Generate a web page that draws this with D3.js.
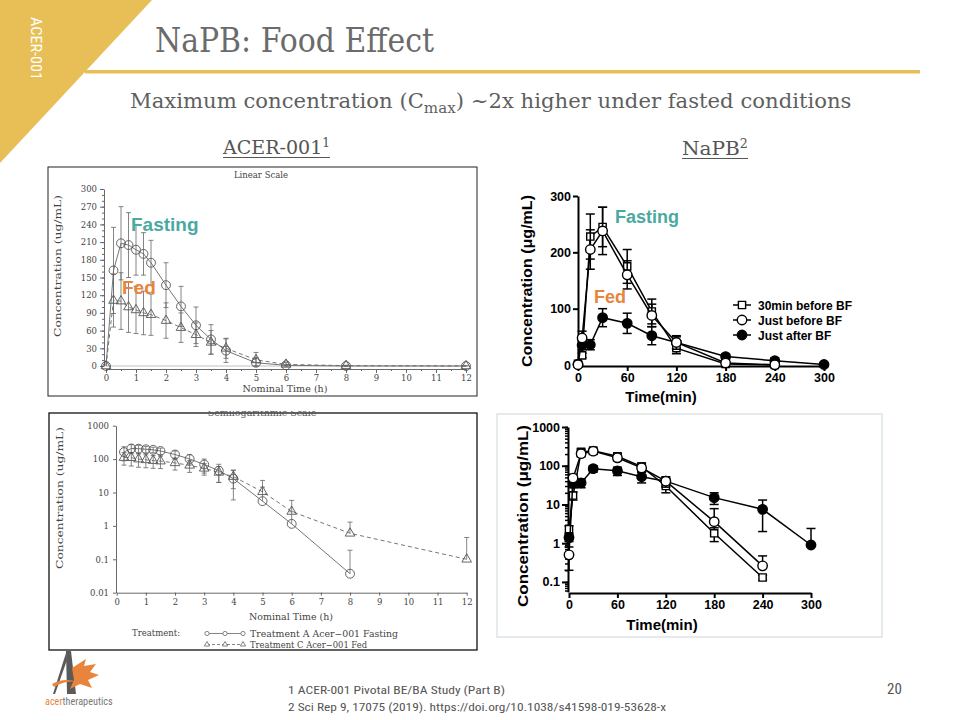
<!DOCTYPE html>
<html><head><meta charset="utf-8">
<script src="https://cdn.jsdelivr.net/npm/d3@7"></script>
<style>body{margin:0;background:#fff}svg{display:block}</style>
</head><body><svg id="s" width="960" height="720"></svg>
<script>
// ---------------- DATA ----------------
// ACER-001 (hours)
const acerTimes = [0,0.25,0.5,0.75,1,1.25,1.5,2,2.5,3,3.5,4,5,6,8,12];
const acerFastMean = [0,162,208,205,197,190,175,137,101,69,45,26,5.5,1.15,0.037,0];
const acerFastSD   = [0,73,62,55,43,36,38,38,34,31,25,20,9,1.5,0.15,0];
const acerFedMean  = [0,111,110,100,95,90,87,77,65,53,40,30,10.5,2.7,0.6,0.1];
const acerFedSD    = [0,45,48,43,40,37,35,30,25,20,20,17,12.5,3.1,0.7,0.35];
const acerLinTicks = [0,30,60,90,120,150,180,210,240,270,300];
const acerLogTicks = [0.01,0.1,1,10,100,1000];
const acerHourTicks = [0,1,2,3,4,5,6,7,8,9,10,11,12];
// NaPB (minutes)
const napbTimesA = [0,5,15,30,60,90,120,180,240];
const napb30Mean = [2.3,17,228,245,175,95,30,1.8,0.13];
const napb30SD   = [0.5,4,40,35,30,22,10,0.7,0.02];
const napbJBMean = [0.5,48,205,238,160,88,40,3.6,0.26];
const napbJBSD   = [0.3,12,35,42,25,20,12,4.2,0.21];
const napbTimesB = [0,5,15,30,60,90,120,180,240,300];
const napbJAMean = [1.4,35,36,84,74,52,40,15,7.5,0.9];
const napbJASD   = [0.3,8,9,16,18,16,10,5,5.5,1.5];
const napbLinTicks = [0,100,200,300];
const napbLogTicks = [0.1,1,10,100,1000];
const napbMinTicks = [0,60,120,180,240,300];
const napbLegend = ["30min before BF","Just before BF","Just after BF"];
const acerLegend = ["Treatment A Acer\u2212001 Fasting","Treatment C Acer\u2212001 Fed"];

// ---------------- SETUP ----------------
const svg = d3.select("#s");
const TEAL = "#4aa9a0", ORANGE = "#e8843c", GOLD = "#e8bf57";
const serif = "'DejaVu Serif', 'Liberation Serif', serif";
const sans = "'Liberation Sans', Arial, sans-serif";
const narrow = "'Liberation Sans Narrow', 'Roboto Condensed', 'Liberation Sans', sans-serif";

// header
svg.append("polygon").attr("points","0,0 152,0 0,163").attr("fill",GOLD);
svg.append("rect").attr("x",85).attr("y",70).attr("width",835).attr("height",3.5).attr("fill",GOLD);
svg.append("text").attr("transform","translate(31,17) rotate(90)")
  .attr("font-family",narrow).attr("font-size",14).attr("fill","#fff")
  .attr("textLength",63).attr("lengthAdjust","spacingAndGlyphs").text("ACER-001");
svg.append("text").attr("x",155).attr("y",52).attr("font-family",serif).attr("font-size",34)
  .attr("fill","#6b6b6b").attr("textLength",279).attr("lengthAdjust","spacingAndGlyphs").text("NaPB: Food Effect");
const sub = svg.append("text").attr("x",130).attr("y",108).attr("font-family",serif).attr("font-size",21)
  .attr("fill","#5f5f5f");
sub.append("tspan").text("Maximum concentration (C");
sub.append("tspan").attr("font-size",15).attr("dy",5).text("max");
sub.append("tspan").attr("dy",-5).text(") ~2x higher under fasted conditions");
function fitX(sel, x0, width){ const w=sel.node().getComputedTextLength(); sel.attr("transform",`translate(${x0},0) scale(${width/w},1) translate(${-x0},0)`); }
fitX(sub,130,722);

function heading(txt, sup, x0, x1, y){
  const t = svg.append("text").attr("x",x0).attr("y",y).attr("font-family",serif).attr("font-size",19).attr("fill","#555");
  t.append("tspan").text(txt);
  t.append("tspan").attr("font-size",12).attr("dy",-7).text(sup);
  fitX(t,x0,x1-x0);
  svg.append("line").attr("x1",x0).attr("x2",x1).attr("y1",y+3.5).attr("y2",y+3.5).attr("stroke","#555").attr("stroke-width",1);
}
heading("ACER-001","1",223,330,154);
heading("NaPB","2",682,748,155);

// ---------------- helpers ----------------
function rows(times, means, sds){ return times.map((t,i)=>({t, m:means[i], sd:sds[i]})); }

function drawSeries(g, x, y, data, o){
  const log = o.log;
  const [dmin,dmax] = y.domain();
  const pts = data.filter(d => !log || d.m > 0);
  const eb = g.append("g").attr("stroke",o.ebColor).attr("stroke-width",o.ebWidth).attr("fill","none");
  pts.forEach(d=>{
    if(!(d.sd>0)) return;
    const hi = d.m + d.sd; let lo = d.m - d.sd;
    const xx = x(d.t);
    let loOk = log ? lo > dmin : true;
    if(!log && lo < dmin) lo = dmin;
    const yHi = y(Math.min(hi,dmax)), yLo = loOk ? y(lo) : y(d.m);
    eb.append("line").attr("x1",xx).attr("x2",xx).attr("y1",yHi).attr("y2",yLo);
    eb.append("line").attr("x1",xx-o.cap).attr("x2",xx+o.cap).attr("y1",yHi).attr("y2",yHi);
    if(loOk) eb.append("line").attr("x1",xx-o.cap).attr("x2",xx+o.cap).attr("y1",yLo).attr("y2",yLo);
  });
  g.append("path").datum(pts).attr("fill","none").attr("stroke",o.lineColor).attr("stroke-width",o.lineWidth)
    .attr("stroke-dasharray",o.dash||null)
    .attr("d",d3.line().x(d=>x(d.t)).y(d=>y(d.m)));
  g.selectAll(null).data(pts).enter().append("path")
    .attr("transform",d=>`translate(${x(d.t)},${y(d.m)})`)
    .attr("d",d3.symbol().type(o.symbol).size(o.size))
    .attr("fill",o.fill).attr("stroke",o.stroke).attr("stroke-width",o.strokeWidth);
}

function styleAxis(g, font, size, weight, color, sw){
  g.selectAll("text").attr("font-family",font).attr("font-size",size).attr("font-weight",weight).attr("fill",color);
  g.selectAll("line,path").attr("stroke",color).attr("stroke-width",sw);
}

// ---------------- CHART 1: ACER linear ----------------
svg.append("rect").attr("x",48).attr("y",167).attr("width",429).attr("height",229).attr("fill","#fff").attr("stroke","#222").attr("stroke-width",1);
const c1x = d3.scaleLinear([0,12],[106,466]);
const c1y = d3.scaleLinear([0,300],[366,189]);
{
  const g = svg.append("g");
  const ya = g.append("g").attr("transform","translate(104,0)")
    .call(d3.axisLeft(c1y).tickValues(acerLinTicks).tickSize(4).tickSizeOuter(0).tickPadding(3));
  styleAxis(ya, serif, 8.5, "normal", "#444", 0.8);
  g.append("g").attr("transform","translate(104,0)")
    .call(d3.axisLeft(c1y).tickValues(d3.range(0,301,10)).tickSize(2).tickFormat("").tickSizeOuter(0))
    .call(a=>{a.select(".domain").remove(); a.selectAll("line").attr("stroke","#666");});
  const xa = g.append("g").attr("transform","translate(0,369)")
    .call(d3.axisBottom(c1x).tickValues(acerHourTicks).tickSize(4).tickSizeOuter(0).tickPadding(2));
  styleAxis(xa, serif, 8.5, "normal", "#444", 0.8);
  g.append("g").attr("transform","translate(0,369)")
    .call(d3.axisBottom(c1x).tickValues(d3.range(0,12.01,0.5)).tickSize(2).tickFormat("").tickSizeOuter(0))
    .call(a=>{a.select(".domain").remove(); a.selectAll("line").attr("stroke","#666");});
  g.append("line").attr("x1",c1x(0)).attr("x2",c1x(12)).attr("y1",c1y(0)).attr("y2",c1y(0)).attr("stroke","#999").attr("stroke-width",0.6);
  const base = {ebColor:"#666", ebWidth:0.8, cap:2.5, lineColor:"#666", lineWidth:0.9, fill:"none", stroke:"#555", strokeWidth:0.9};
  drawSeries(g,c1x,c1y,rows(acerTimes,acerFedMean,acerFedSD),{...base, dash:"4,3", symbol:d3.symbolTriangle, size:40});
  drawSeries(g,c1x,c1y,rows(acerTimes,acerFastMean,acerFastSD),{...base, symbol:d3.symbolCircle, size:62});
  g.append("text").attr("x",261).attr("y",178).attr("text-anchor","middle").attr("font-family",serif).attr("font-size",8.5).attr("fill","#444").text("Linear Scale");
  g.append("text").attr("x",285).attr("y",392).attr("text-anchor","middle").attr("font-family",serif).attr("font-size",9.5).attr("fill","#444")
    .attr("textLength",85).attr("lengthAdjust","spacingAndGlyphs").text("Nominal Time (h)");
  g.append("text").attr("transform","translate(61,266) rotate(-90)").attr("text-anchor","middle").attr("font-family",serif).attr("font-size",9.5).attr("fill","#444")
    .attr("textLength",142).attr("lengthAdjust","spacingAndGlyphs").text("Concentration (ug/mL)");
  g.append("text").attr("x",131).attr("y",231).attr("font-family",sans).attr("font-weight","bold").attr("font-size",19).attr("fill",TEAL).text("Fasting");
  g.append("text").attr("x",122).attr("y",294).attr("font-family",sans).attr("font-weight","bold").attr("font-size",19).attr("fill",ORANGE).text("Fed");
}

// ---------------- CHART 3: ACER log ----------------
svg.append("rect").attr("x",49).attr("y",413).attr("width",428).attr("height",237).attr("fill","#fff").attr("stroke","#111").attr("stroke-width",1.3);
const c3x = d3.scaleLinear([0,12],[116.7,466.7]);
const c3y = d3.scaleLog([0.01,1000],[592.7,425.7]);
{
  const g = svg.append("g");
  svg.append("clipPath").attr("id","clipT").append("rect").attr("x",49).attr("y",411).attr("width",428).attr("height",10);
  g.append("text").attr("clip-path","url(#clipT)").attr("x",262).attr("y",416).attr("text-anchor","middle").attr("font-family",serif).attr("font-size",9.5).attr("fill","#555").text("Semilogarithmic Scale");
  const ya = g.append("g").attr("transform","translate(116,0)")
    .call(d3.axisLeft(c3y).tickValues(acerLogTicks).tickFormat(d=>String(d)).tickSize(3).tickSizeOuter(0).tickPadding(4));
  styleAxis(ya, serif, 8.5, "normal", "#444", 0.8);
  const xa = g.append("g").attr("transform","translate(0,592.7)")
    .call(d3.axisBottom(c3x).tickValues(acerHourTicks).tickSize(3).tickSizeOuter(0).tickPadding(3));
  styleAxis(xa, serif, 8.5, "normal", "#444", 0.8);
  const base = {log:true, ebColor:"#666", ebWidth:0.8, cap:2.5, lineColor:"#666", lineWidth:0.9, fill:"none", stroke:"#555", strokeWidth:0.9};
  drawSeries(g,c3x,c3y,rows(acerTimes,acerFedMean,acerFedSD),{...base, dash:"4,3", symbol:d3.symbolTriangle, size:40});
  drawSeries(g,c3x,c3y,rows(acerTimes,acerFastMean,acerFastSD),{...base, symbol:d3.symbolCircle, size:62});
  g.append("text").attr("x",291).attr("y",620).attr("text-anchor","middle").attr("font-family",serif).attr("font-size",9.5).attr("fill","#444")
    .attr("textLength",84).attr("lengthAdjust","spacingAndGlyphs").text("Nominal Time (h)");
  g.append("text").attr("transform","translate(63,498) rotate(-90)").attr("text-anchor","middle").attr("font-family",serif).attr("font-size",9.5).attr("fill","#444")
    .attr("textLength",142).attr("lengthAdjust","spacingAndGlyphs").text("Concentration (ug/mL)");
  g.append("text").attr("x",132).attr("y",636).attr("font-family",serif).attr("font-size",9).attr("fill","#444")
    .attr("textLength",48).attr("lengthAdjust","spacingAndGlyphs").text("Treatment:");
  const ly = [633.5, 644.5];
  const lg = g.append("g").attr("stroke","#666").attr("fill","none").attr("stroke-width",0.8);
  lg.append("line").attr("x1",207).attr("x2",243).attr("y1",ly[0]).attr("y2",ly[0]);
  lg.append("line").attr("x1",207).attr("x2",243).attr("y1",ly[1]).attr("y2",ly[1]).attr("stroke-dasharray","3,2");
  [207,225,243].forEach(xx=>{
    lg.append("path").attr("transform",`translate(${xx},${ly[0]})`).attr("d",d3.symbol().type(d3.symbolCircle).size(14)).attr("fill","#fff");
    lg.append("path").attr("transform",`translate(${xx},${ly[1]})`).attr("d",d3.symbol().type(d3.symbolTriangle).size(12)).attr("fill","#fff");
  });
  acerLegend.forEach((t,i)=>{
    g.append("text").attr("x",250).attr("y",ly[i]+3).attr("font-family",serif).attr("font-size",9).attr("fill","#444")
      .attr("textLength",i?117:148).attr("lengthAdjust","spacingAndGlyphs").text(t);
  });
}

// ---------------- CHART 2: NaPB linear ----------------
const c2x = d3.scaleLinear([0,300],[578,824]);
const c2y = d3.scaleLinear([0,300],[365,196]);
{
  const g = svg.append("g");
  const ya = g.append("g").attr("transform","translate(578,0)")
    .call(d3.axisLeft(c2y).tickValues(napbLinTicks).tickSize(5).tickSizeOuter(0).tickPadding(2));
  styleAxis(ya, sans, 12.5, "bold", "#000", 2);
  const xa = g.append("g").attr("transform","translate(0,366)")
    .call(d3.axisBottom(c2x).tickValues(napbMinTicks).tickSize(5).tickSizeOuter(0).tickPadding(2));
  styleAxis(xa, sans, 12.5, "bold", "#000", 2);
  const base = {ebColor:"#000", ebWidth:1.5, cap:4.5, lineColor:"#000", lineWidth:1.5, stroke:"#000", strokeWidth:1.4};
  drawSeries(g,c2x,c2y,rows(napbTimesB,napbJAMean,napbJASD),{...base, symbol:d3.symbolCircle, size:70, fill:"#000"});
  drawSeries(g,c2x,c2y,rows(napbTimesA,napb30Mean,napb30SD),{...base, symbol:d3.symbolSquare, size:52, fill:"#fff"});
  drawSeries(g,c2x,c2y,rows(napbTimesA,napbJBMean,napbJBSD),{...base, symbol:d3.symbolCircle, size:70, fill:"#fff"});
  g.append("text").attr("x",661).attr("y",402).attr("text-anchor","middle").attr("font-family",sans).attr("font-weight","bold").attr("font-size",15).text("Time(min)");
  g.append("text").attr("transform","translate(532,281) rotate(-90)").attr("text-anchor","middle").attr("font-family",sans).attr("font-weight","bold").attr("font-size",15)
    .attr("textLength",172).attr("lengthAdjust","spacingAndGlyphs").text("Concentration (\u03bcg/mL)");
  const syms = [[d3.symbolSquare,52,"#fff"],[d3.symbolCircle,70,"#fff"],[d3.symbolCircle,70,"#000"]];
  napbLegend.forEach((t,i)=>{
    const yy = 305 + i*15;
    g.append("line").attr("x1",733).attr("x2",751).attr("y1",yy).attr("y2",yy).attr("stroke","#000").attr("stroke-width",1.5);
    g.append("path").attr("transform",`translate(742,${yy})`).attr("d",d3.symbol().type(syms[i][0]).size(syms[i][1]))
      .attr("fill",syms[i][2]).attr("stroke","#000").attr("stroke-width",1.4);
    g.append("text").attr("x",758).attr("y",yy+4.5).attr("font-family",sans).attr("font-weight","bold").attr("font-size",12).text(t);
  });
  g.append("text").attr("x",615).attr("y",223).attr("font-family",sans).attr("font-weight","bold").attr("font-size",18).attr("fill",TEAL).text("Fasting");
  g.append("text").attr("x",594).attr("y",303).attr("font-family",sans).attr("font-weight","bold").attr("font-size",18).attr("fill",ORANGE).text("Fed");
}

// ---------------- CHART 4: NaPB log ----------------
svg.append("rect").attr("x",497).attr("y",414).attr("width",385).attr("height",223).attr("fill","none").attr("stroke","#dde3e8").attr("stroke-width",1.5);
const c4x = d3.scaleLinear([0,300],[569,811]);
const c4y = d3.scaleLog([0.055,1000],[592,427]);
{
  const g = svg.append("g");
  const minor = [];
  [0.01,0.1,1,10,100].forEach(p=>{ for(let k=1;k<10;k++){ const v=p*k; if(v>=0.055 && v<=1000) minor.push(v);} });
  minor.push(1000);
  g.append("g").attr("transform","translate(568,0)")
    .call(d3.axisLeft(c4y).tickValues(minor).tickSize(3).tickFormat("").tickSizeOuter(0))
    .call(a=>{a.select(".domain").remove(); a.selectAll("line").attr("stroke","#000").attr("stroke-width",1.5);});
  const ya = g.append("g").attr("transform","translate(568,0)")
    .call(d3.axisLeft(c4y).tickValues(napbLogTicks).tickFormat(d=>String(d)).tickSize(6).tickSizeOuter(0).tickPadding(2));
  styleAxis(ya, sans, 12.5, "bold", "#000", 2);
  const xa = g.append("g").attr("transform","translate(0,593)")
    .call(d3.axisBottom(c4x).tickValues(napbMinTicks).tickSize(5).tickSizeOuter(0).tickPadding(2));
  styleAxis(xa, sans, 12.5, "bold", "#000", 2);
  const base = {log:true, ebColor:"#000", ebWidth:1.5, cap:4.5, lineColor:"#000", lineWidth:1.5, stroke:"#000", strokeWidth:1.4};
  drawSeries(g,c4x,c4y,rows(napbTimesB,napbJAMean,napbJASD),{...base, symbol:d3.symbolCircle, size:70, fill:"#000"});
  drawSeries(g,c4x,c4y,rows(napbTimesA,napb30Mean,napb30SD),{...base, symbol:d3.symbolSquare, size:52, fill:"#fff"});
  drawSeries(g,c4x,c4y,rows(napbTimesA,napbJBMean,napbJBSD),{...base, symbol:d3.symbolCircle, size:70, fill:"#fff"});
  g.append("text").attr("x",662).attr("y",630).attr("text-anchor","middle").attr("font-family",sans).attr("font-weight","bold").attr("font-size",15).text("Time(min)");
  g.append("text").attr("transform","translate(528,516) rotate(-90)").attr("text-anchor","middle").attr("font-family",sans).attr("font-weight","bold").attr("font-size",15)
    .attr("textLength",182).attr("lengthAdjust","spacingAndGlyphs").text("Concentration (\u03bcg/mL)");
}

// ---------------- FOOTER ----------------
{
  const g = svg.append("g");
  g.append("path").attr("d","M66,651 L71,651 L76,694 L67,694 Z").attr("fill","#5a5a5a");
  g.append("path").attr("d","M66,653 L53,694 L55,694 L67,660 Z").attr("fill","#5a5a5a");
  g.append("path").attr("d","M72,668 L86,659 L84,666 L96,664 L90,672 L99,675 L88,680 L92,688 L80,684 L70,689 L74,680 Z").attr("fill",ORANGE);
  g.append("path").attr("d","M52,684 Q64,677 78,682 Q66,680 54,687 Z").attr("fill",ORANGE);
  const lt = g.append("text").attr("x",45).attr("y",705).attr("font-family",narrow).attr("font-size",11.5);
  lt.append("tspan").attr("fill",ORANGE).text("acer");
  lt.append("tspan").attr("fill","#777").text("therapeutics");
  fitX(lt,45,68);
  g.append("text").attr("x",288).attr("y",694).attr("font-family",narrow).attr("font-size",11).attr("fill","#555")
    .attr("textLength",217).attr("lengthAdjust","spacingAndGlyphs").text("1 ACER-001 Pivotal BE/BA Study (Part B)");
  g.append("text").attr("x",288).attr("y",711).attr("font-family",narrow).attr("font-size",11).attr("fill","#555")
    .attr("textLength",378).attr("lengthAdjust","spacingAndGlyphs").text("2 Sci Rep 9, 17075 (2019). https://doi.org/10.1038/s41598-019-53628-x");
  g.append("text").attr("x",887).attr("y",694).attr("font-family",narrow).attr("font-size",15).attr("fill","#555").text("20");
}
</script></body></html>
